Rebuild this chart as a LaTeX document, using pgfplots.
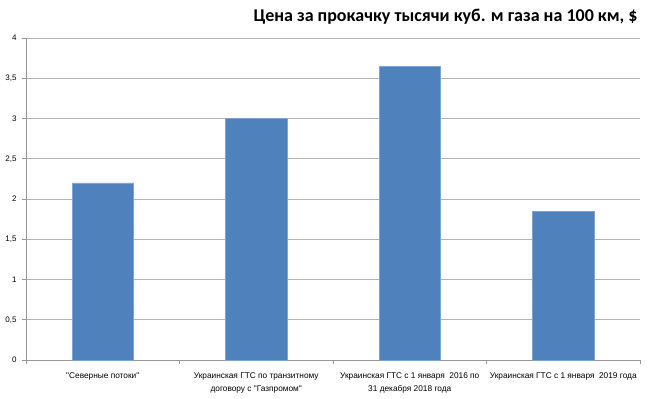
\documentclass[border=0pt]{standalone}
\usepackage{fontspec}
\setmainfont{Carlito}
\newfontfamily\lblfont{Liberation Sans}
\usepackage{pgfplots}
\pgfplotsset{compat=1.18}
\definecolor{barblue}{HTML}{4F81BD}
\definecolor{baredge}{HTML}{7FA3D3}
\definecolor{gridgray}{HTML}{B3B3B3}
\definecolor{axisgray}{HTML}{969696}
\begin{document}
\begin{tikzpicture}
\useasboundingbox (0,0) rectangle (650bp,399bp);
\begin{axis}[
  at={(26bp,39bp)}, anchor=south west,
  scale only axis, width=614bp, height=322bp,
  xmin=-0.5, xmax=3.5, ymin=0, ymax=4,
  axis lines*=left,
  axis line style={draw=axisgray, line width=0.8pt},
  ytick={0,0.5,...,4},
  ymajorgrids, grid style={draw=gridgray, line width=0.8pt},
  /pgf/number format/use comma,
  /pgf/number format/assume math mode=true,
  yticklabel style={font=\lblfont\fontsize{8bp}{9bp}\selectfont, xshift=-2bp},
  y tick style={draw=axisgray, line width=0.8pt},
  major tick length=4bp,
  tick align=outside,
  xtick={0,1,2,3},
  xticklabels={{"Северные потоки"},{Украинская ГТС по транзитному\\договору с "Газпромом"},{Украинская ГТС с 1 января~ 2016 по\\31 декабря 2018 года},{Украинская ГТС с 1 января~ 2019 года}},
  xticklabel style={font=\lblfont\fontsize{8.3bp}{13bp}\selectfont, align=center, yshift=-5bp},
  x tick style={draw=none},
  minor xtick={-0.5,0.5,1.5,2.5,3.5},
  minor x tick style={draw=axisgray, line width=0.8pt},
  minor tick length=4bp,
  clip=false,
]
\addplot[ybar, bar width=0.4, fill=barblue, draw=baredge, line width=0.6pt]
  coordinates {(0,2.2) (1,3.0) (2,3.65) (3,1.85)};
\end{axis}
\node[anchor=east, font=\bfseries\fontsize{18bp}{20bp}\selectfont] at (641bp,382bp) {Цена за прокачку тысячи куб. м газа на 100 км, \$};
\end{tikzpicture}
\end{document}
